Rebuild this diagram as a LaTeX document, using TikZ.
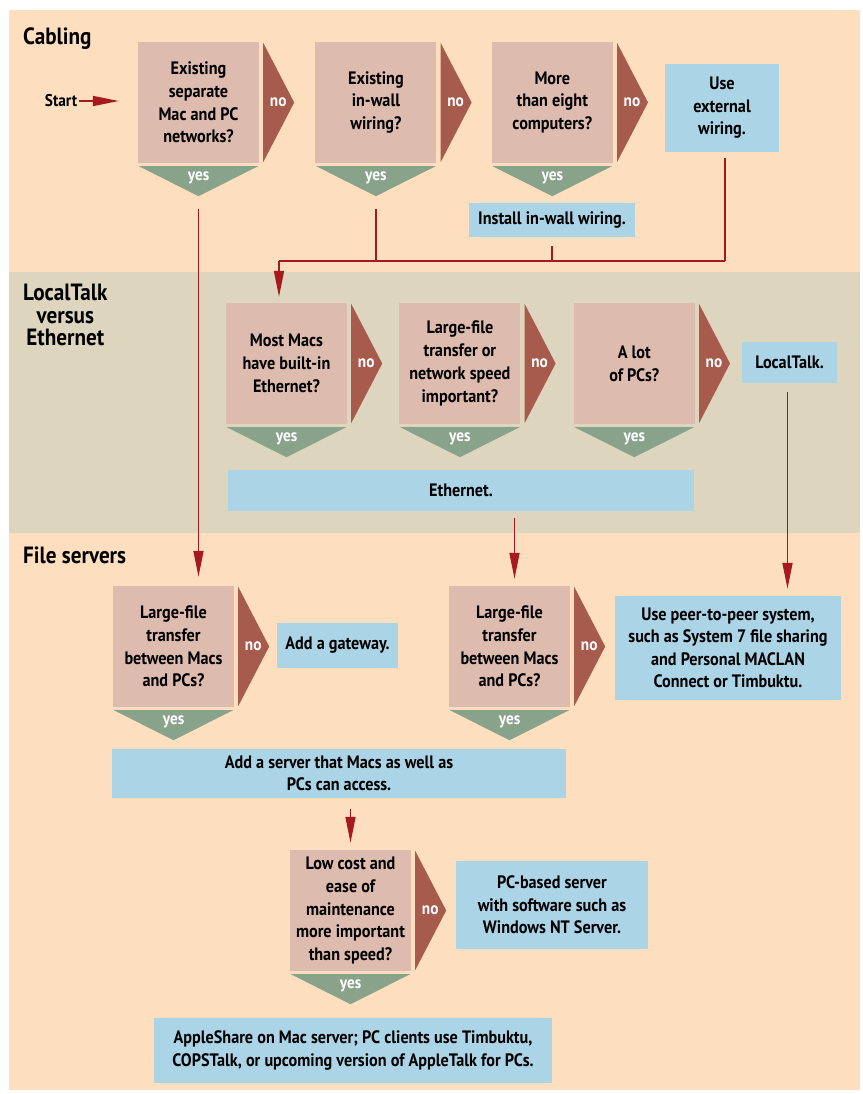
\documentclass[tikz,border=0pt]{standalone}
\usepackage{fontspec}
\setmainfont{PT Sans}[FakeStretch=0.9]
\usetikzlibrary{arrows.meta,positioning,calc}
\definecolor{peach}{HTML}{FDDFBF}
\definecolor{tanband}{HTML}{DDD5BD}
\definecolor{askpink}{HTML}{DDBBAF}
\definecolor{nored}{HTML}{A65B4C}
\definecolor{yesgreen}{HTML}{88A38A}
\definecolor{actblue}{HTML}{ABD4E7}
\definecolor{wirered}{HTML}{A6191F}
\tikzset{
  ask/.style={fill=askpink, minimum width=121pt, minimum height=121pt, align=center,
              inner sep=0pt, font=\bfseries\fontsize{18}{22.8}\selectfont},
  act/.style={fill=actblue, align=center, inner sep=0pt,
              font=\bfseries\fontsize{18}{22.5}\selectfont},
  ans/.style={text=white, inner sep=0pt, font=\bfseries\fontsize{17}{17}\selectfont},
  title/.style={anchor=west, inner sep=0pt, align=center, font=\bfseries\fontsize{23.5}{22.5}\selectfont},
  flow/.style={-{Triangle[length=26pt,width=10pt]}, line width=1.6pt, wirered},
  wire/.style={line width=1.6pt, wirered},
}
\begin{document}
\begin{tikzpicture}[x=1pt, y=-1pt]
  \useasboundingbox (0,0) rectangle (862,1094);
  % bands
  \fill[peach] (9,10) rectangle (860,272);
  \fill[tanband] (9,272) rectangle (860,533);
  \fill[peach] (9,533) rectangle (860,1090);
  \node[title] (cab) at (23,39) {Cabling};
  \node[title] (lvt) at (23,315) {LocalTalk\\versus\\Ethernet};
  \node[title] (fs) at (23,555) {File servers};

  % cabling
  \node[font=\bfseries\fontsize{17}{18}\selectfont, inner sep=2pt] (start) at (61,101) {Start};
  \node[ask] (q1) at (198.5,102.5) {Existing\\separate\\Mac and PC\\networks?};
  \node[ask, right=56pt of q1] (q2) {Existing\\in-wall\\wiring?};
  \node[ask, right=55pt of q2] (q3) {More\\than eight\\computers?};
  \node[act, minimum width=114pt, minimum height=88pt] (ext) at (722,108) {Use\\external\\wiring.};
  \node[act, minimum width=166pt, minimum height=34pt] (inst) at (552,220) {Install in-wall wiring.};

  % localtalk versus ethernet
  \node[ask] (q4) at (286.5,363.5) {Most Macs\\have built-in\\Ethernet?};
  \node[ask, right=52pt of q4] (q5) {Large-file\\transfer or\\network speed\\important?};
  \node[ask, right=53pt of q5] (q6) {A lot\\of PCs?};
  \node[act, minimum width=95pt, minimum height=41pt] (local) at (789.5,362.5) {LocalTalk.};
  \node[act, minimum width=466pt, minimum height=41pt] (eth) at (461,490.5) {Ethernet.};

  % file servers
  \node[ask] (q7) at (173.5,646.5) {Large-file\\transfer\\between Macs\\and PCs?};
  \node[act, minimum width=121pt, minimum height=45pt] (gate) at (337.5,645.5) {Add a gateway.};
  \node[ask] (q8) at (509.5,646.5) {Large-file\\transfer\\between Macs\\and PCs?};
  \node[act, minimum width=226pt, minimum height=104pt] (peer) at (728,648)
    {Use peer-to-peer system,\\such as System 7 file sharing\\and Personal MACLAN\\Connect or Timbuktu.};
  \node[act, minimum width=454pt, minimum height=49pt] (server) at (339,773.5)
    {Add a server that Macs as well as\\PCs can access.};
  \node[ask] (q9) at (350.5,910.5) {Low cost and\\ease of\\maintenance\\more important\\than speed?};
  \node[act, minimum width=192pt, minimum height=88pt] (pcsrv) at (552,905)
    {PC-based server\\with software such as\\Windows NT Server.};
  \node[act, minimum width=398pt, minimum height=65pt] (apple) at (353,1050.5)
    {AppleShare on Mac server; PC clients use Timbuktu,\\COPSTalk, or upcoming version of AppleTalk for PCs.};

  % no / yes pointers
  \foreach \i in {1,...,9} {
    \fill[nored] ($(q\i.north east)+(4,1)$) -- ($(q\i.east)+(35,0)$) -- ($(q\i.south east)+(4,-1)$) -- cycle;
    \fill[yesgreen] ($(q\i.south west)+(1,3)$) -- ($(q\i.south east)+(-1,3)$) -- ($(q\i.south)+(0,33)$) -- cycle;
    \node[ans] (q\i-n) at ($(q\i.east)+(19,0)$) {no};
    \node[ans] (q\i-y) at ($(q\i.south)+(0,15)$) {yes};
    \coordinate (q\i-tip) at ($(q\i.south)+(0,33)$);
  }

  % connectors
  \coordinate (busL) at (279,261);
  \draw[flow, shorten >=19pt] (start) -- (start -| q1.west);
  \draw[flow, shorten <=13pt, shorten >=9pt] (q1-tip) -- (q1-tip |- q7.north);
  \draw[wire, shorten <=13pt] (q2-tip) -- (q2-tip |- busL);
  \draw[wire, shorten <=9pt] (inst) -- (inst |- busL);
  \draw[wire, shorten <=6pt] ([xshift=3pt]ext.south) -- ([xshift=3pt]ext.south |- busL);
  \draw[wire] (busL) -- ([xshift=3pt]ext.south |- busL);
  \draw[flow, shorten >=6pt] (busL) -- (busL |- q4.north);
  \draw[flow, shorten <=7pt, shorten >=7pt] ([xshift=5pt]q8.north |- eth.south) -- ([xshift=5pt]q8.north);
  \draw[flow, shorten <=9pt, shorten >=7pt] ([xshift=-2pt]local.south) -- ([xshift=-2pt]local.south |- peer.north);
  \draw[flow, shorten <=11pt, shorten >=7pt] (server.south -| q9.north) -- (q9.north);
\end{tikzpicture}
\end{document}
